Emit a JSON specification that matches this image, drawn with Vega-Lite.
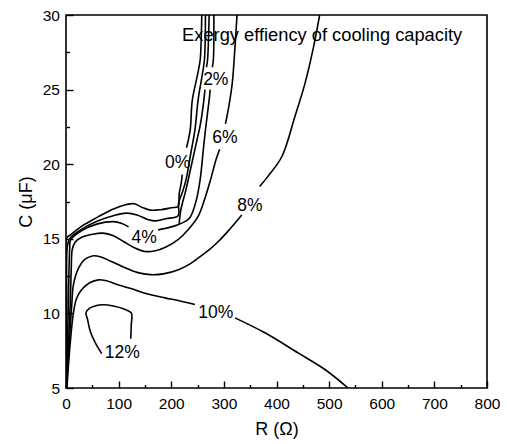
{
  "$schema": "https://vega.github.io/schema/vega-lite/v6.json",
  "width": 421,
  "height": 373,
  "padding": {"left": 17, "top": 8, "right": 5, "bottom": 5},
  "config": {
    "font": "Liberation Sans",
    "view": {"stroke": "#000", "strokeWidth": 1.6},
    "axis": {"grid": false, "domain": false, "labelColor": "#000", "titleColor": "#000", "labelFont": "Liberation Sans", "titleFont": "Liberation Sans", "titleFontWeight": "normal"}
  },
  "datasets": {
    "lines": [
      {"seg": "A1", "i": 1, "R": 0, "C": 5}, {"seg": "A1", "i": 2, "R": 0.3, "C": 10}, {"seg": "A1", "i": 3, "R": 1.5, "C": 15.05}, {"seg": "A1", "i": 4, "R": 10, "C": 15.3}, {"seg": "A1", "i": 5, "R": 30, "C": 15.85}, {"seg": "A1", "i": 6, "R": 60, "C": 16.45}, {"seg": "A1", "i": 7, "R": 90, "C": 17.0}, {"seg": "A1", "i": 8, "R": 115, "C": 17.3}, {"seg": "A1", "i": 9, "R": 130, "C": 17.35}, {"seg": "A1", "i": 10, "R": 145, "C": 17.1}, {"seg": "A1", "i": 11, "R": 160, "C": 16.92}, {"seg": "A1", "i": 12, "R": 180, "C": 16.95}, {"seg": "A1", "i": 13, "R": 200, "C": 17.08}, {"seg": "A1", "i": 14, "R": 213, "C": 17.17}, {"seg": "A1", "i": 15, "R": 215, "C": 18.0}, {"seg": "A1", "i": 16, "R": 219, "C": 18.75}, {"seg": "A1", "i": 17, "R": 221, "C": 19.3},
      {"seg": "A2", "i": 1, "R": 229, "C": 21.1}, {"seg": "A2", "i": 2, "R": 236, "C": 22.3}, {"seg": "A2", "i": 3, "R": 240, "C": 24.3}, {"seg": "A2", "i": 4, "R": 250, "C": 26.0}, {"seg": "A2", "i": 5, "R": 255, "C": 27.0}, {"seg": "A2", "i": 6, "R": 257, "C": 28.5}, {"seg": "A2", "i": 7, "R": 258, "C": 30},
      {"seg": "B1", "i": 1, "R": 0.3, "C": 5}, {"seg": "B1", "i": 2, "R": 1.5, "C": 10.6}, {"seg": "B1", "i": 3, "R": 3, "C": 14.6}, {"seg": "B1", "i": 4, "R": 8, "C": 15.05}, {"seg": "B1", "i": 5, "R": 30, "C": 15.65}, {"seg": "B1", "i": 6, "R": 60, "C": 16.2}, {"seg": "B1", "i": 7, "R": 90, "C": 16.55}, {"seg": "B1", "i": 8, "R": 115, "C": 16.72}, {"seg": "B1", "i": 9, "R": 135, "C": 16.6}, {"seg": "B1", "i": 10, "R": 155, "C": 16.3}, {"seg": "B1", "i": 11, "R": 170, "C": 16.2}, {"seg": "B1", "i": 12, "R": 190, "C": 16.35}, {"seg": "B1", "i": 13, "R": 213, "C": 16.55}, {"seg": "B1", "i": 14, "R": 214, "C": 17.4}, {"seg": "B1", "i": 15, "R": 222, "C": 18.2}, {"seg": "B1", "i": 16, "R": 229, "C": 19.1}, {"seg": "B1", "i": 17, "R": 237, "C": 20.7}, {"seg": "B1", "i": 18, "R": 245, "C": 22.3}, {"seg": "B1", "i": 19, "R": 251, "C": 24.3}, {"seg": "B1", "i": 20, "R": 258, "C": 25.8}, {"seg": "B1", "i": 21, "R": 263, "C": 27}, {"seg": "B1", "i": 22, "R": 265, "C": 30},
      {"seg": "X1", "i": 1, "R": 215, "C": 16.0}, {"seg": "X1", "i": 2, "R": 218, "C": 16.9}, {"seg": "X1", "i": 3, "R": 228, "C": 18.3}, {"seg": "X1", "i": 4, "R": 240, "C": 20.2}, {"seg": "X1", "i": 5, "R": 250, "C": 21.8}, {"seg": "X1", "i": 6, "R": 255, "C": 22.6}, {"seg": "X1", "i": 7, "R": 262, "C": 24.3}, {"seg": "X1", "i": 8, "R": 264, "C": 25.0},
      {"seg": "X2", "i": 1, "R": 267, "C": 26.5}, {"seg": "X2", "i": 2, "R": 269, "C": 27}, {"seg": "X2", "i": 3, "R": 272, "C": 30},
      {"seg": "C1", "i": 1, "R": 0.7, "C": 5}, {"seg": "C1", "i": 2, "R": 4.5, "C": 10.6}, {"seg": "C1", "i": 3, "R": 7, "C": 14.3}, {"seg": "C1", "i": 4, "R": 9, "C": 14.95}, {"seg": "C1", "i": 5, "R": 30, "C": 15.55}, {"seg": "C1", "i": 6, "R": 60, "C": 16.0}, {"seg": "C1", "i": 7, "R": 90, "C": 16.15}, {"seg": "C1", "i": 8, "R": 105, "C": 16.05}, {"seg": "C1", "i": 9, "R": 119, "C": 15.8},
      {"seg": "C2", "i": 1, "R": 175, "C": 15.6}, {"seg": "C2", "i": 2, "R": 195, "C": 15.75}, {"seg": "C2", "i": 3, "R": 213, "C": 15.94}, {"seg": "C2", "i": 4, "R": 220, "C": 16.05}, {"seg": "C2", "i": 5, "R": 235, "C": 16.4}, {"seg": "C2", "i": 6, "R": 247, "C": 17.5}, {"seg": "C2", "i": 7, "R": 255, "C": 19.0}, {"seg": "C2", "i": 8, "R": 261, "C": 21.0}, {"seg": "C2", "i": 9, "R": 265, "C": 22.3}, {"seg": "C2", "i": 10, "R": 272, "C": 24.3}, {"seg": "C2", "i": 11, "R": 274, "C": 25.0},
      {"seg": "C3", "i": 1, "R": 278, "C": 26.5}, {"seg": "C3", "i": 2, "R": 280, "C": 27}, {"seg": "C3", "i": 3, "R": 281, "C": 30},
      {"seg": "D1", "i": 1, "R": 1, "C": 5}, {"seg": "D1", "i": 2, "R": 8, "C": 10.6}, {"seg": "D1", "i": 3, "R": 10, "C": 13.0}, {"seg": "D1", "i": 4, "R": 12, "C": 14.3}, {"seg": "D1", "i": 5, "R": 18, "C": 14.8}, {"seg": "D1", "i": 6, "R": 30, "C": 15.1}, {"seg": "D1", "i": 7, "R": 50, "C": 15.3}, {"seg": "D1", "i": 8, "R": 70, "C": 15.38}, {"seg": "D1", "i": 9, "R": 90, "C": 15.2}, {"seg": "D1", "i": 10, "R": 110, "C": 14.8}, {"seg": "D1", "i": 11, "R": 130, "C": 14.4}, {"seg": "D1", "i": 12, "R": 150, "C": 14.15}, {"seg": "D1", "i": 13, "R": 170, "C": 14.2}, {"seg": "D1", "i": 14, "R": 190, "C": 14.45}, {"seg": "D1", "i": 15, "R": 213, "C": 14.94}, {"seg": "D1", "i": 16, "R": 232, "C": 15.6}, {"seg": "D1", "i": 17, "R": 251, "C": 16.5}, {"seg": "D1", "i": 18, "R": 262, "C": 17.5}, {"seg": "D1", "i": 19, "R": 275, "C": 19.0}, {"seg": "D1", "i": 20, "R": 285, "C": 20.3}, {"seg": "D1", "i": 21, "R": 292, "C": 21.0},
      {"seg": "D2", "i": 1, "R": 303, "C": 22.7}, {"seg": "D2", "i": 2, "R": 310, "C": 24.0}, {"seg": "D2", "i": 3, "R": 316, "C": 25.45}, {"seg": "D2", "i": 4, "R": 321, "C": 27.8}, {"seg": "D2", "i": 5, "R": 325, "C": 30},
      {"seg": "E1", "i": 1, "R": 1.3, "C": 5}, {"seg": "E1", "i": 2, "R": 6, "C": 8}, {"seg": "E1", "i": 3, "R": 11, "C": 10.6}, {"seg": "E1", "i": 4, "R": 14, "C": 11.9}, {"seg": "E1", "i": 5, "R": 24, "C": 13.05}, {"seg": "E1", "i": 6, "R": 35, "C": 13.6}, {"seg": "E1", "i": 7, "R": 50, "C": 13.85}, {"seg": "E1", "i": 8, "R": 65, "C": 13.8}, {"seg": "E1", "i": 9, "R": 85, "C": 13.5}, {"seg": "E1", "i": 10, "R": 110, "C": 13.1}, {"seg": "E1", "i": 11, "R": 135, "C": 12.75}, {"seg": "E1", "i": 12, "R": 160, "C": 12.6}, {"seg": "E1", "i": 13, "R": 185, "C": 12.65}, {"seg": "E1", "i": 14, "R": 215, "C": 12.95}, {"seg": "E1", "i": 15, "R": 235, "C": 13.3}, {"seg": "E1", "i": 16, "R": 251, "C": 13.7}, {"seg": "E1", "i": 17, "R": 270, "C": 14.2}, {"seg": "E1", "i": 18, "R": 289, "C": 14.8}, {"seg": "E1", "i": 19, "R": 310, "C": 15.6}, {"seg": "E1", "i": 20, "R": 334, "C": 16.6},
      {"seg": "E2", "i": 1, "R": 368, "C": 18.5}, {"seg": "E2", "i": 2, "R": 384, "C": 19.2}, {"seg": "E2", "i": 3, "R": 410, "C": 20.5}, {"seg": "E2", "i": 4, "R": 435, "C": 23.2}, {"seg": "E2", "i": 5, "R": 454, "C": 25.4}, {"seg": "E2", "i": 6, "R": 470, "C": 27.8}, {"seg": "E2", "i": 7, "R": 482, "C": 30},
      {"seg": "F1", "i": 1, "R": 1.7, "C": 5}, {"seg": "F1", "i": 2, "R": 8, "C": 8}, {"seg": "F1", "i": 3, "R": 14, "C": 10.0}, {"seg": "F1", "i": 4, "R": 20, "C": 11.0}, {"seg": "F1", "i": 5, "R": 30, "C": 11.6}, {"seg": "F1", "i": 6, "R": 45, "C": 12.05}, {"seg": "F1", "i": 7, "R": 62, "C": 12.25}, {"seg": "F1", "i": 8, "R": 75, "C": 12.2}, {"seg": "F1", "i": 9, "R": 100, "C": 11.9}, {"seg": "F1", "i": 10, "R": 125, "C": 11.65}, {"seg": "F1", "i": 11, "R": 150, "C": 11.35}, {"seg": "F1", "i": 12, "R": 188, "C": 11.04}, {"seg": "F1", "i": 13, "R": 215, "C": 10.85}, {"seg": "F1", "i": 14, "R": 245, "C": 10.6},
      {"seg": "F2", "i": 1, "R": 321, "C": 9.7}, {"seg": "F2", "i": 2, "R": 378, "C": 8.7}, {"seg": "F2", "i": 3, "R": 441, "C": 7.35}, {"seg": "F2", "i": 4, "R": 492, "C": 6.24}, {"seg": "F2", "i": 5, "R": 536, "C": 5},
      {"seg": "G1", "i": 1, "R": 68, "C": 7.3}, {"seg": "G1", "i": 2, "R": 56, "C": 8.0}, {"seg": "G1", "i": 3, "R": 46, "C": 8.8}, {"seg": "G1", "i": 4, "R": 41, "C": 9.6}, {"seg": "G1", "i": 5, "R": 38, "C": 10.05}, {"seg": "G1", "i": 6, "R": 45, "C": 10.35}, {"seg": "G1", "i": 7, "R": 55, "C": 10.5}, {"seg": "G1", "i": 8, "R": 70, "C": 10.58}, {"seg": "G1", "i": 9, "R": 90, "C": 10.5}, {"seg": "G1", "i": 10, "R": 110, "C": 10.3}, {"seg": "G1", "i": 11, "R": 124, "C": 10.03}, {"seg": "G1", "i": 12, "R": 124, "C": 9.2}, {"seg": "G1", "i": 13, "R": 123, "C": 8.3}
    ],
    "labels": [
      {"label": "0%", "R": 212, "C": 19.74},
      {"label": "2%", "R": 284.6, "C": 25.31},
      {"label": "4%", "R": 148.6, "C": 14.72},
      {"label": "6%", "R": 302, "C": 21.41},
      {"label": "8%", "R": 349.5, "C": 16.83},
      {"label": "10%", "R": 284.6, "C": 9.7},
      {"label": "12%", "R": 107, "C": 7.02}
    ],
    "note": [
      {"label": "Exergy effiency of cooling capacity", "R": 486.7, "C": 28.26}
    ]
  },
  "resolve": {"axis": {"x": "independent", "y": "independent"}},
  "layer": [
    {
      "data": {"name": "lines"},
      "mark": {"type": "line", "color": "#000", "strokeWidth": 1.6, "clip": true, "interpolate": "catmull-rom"},
      "encoding": {
        "x": {"field": "R", "type": "quantitative", "scale": {"domain": [0, 800], "nice": false, "zero": false},
              "axis": {"orient": "bottom", "values": [0, 100, 200, 300, 400, 500, 600, 700, 800], "title": "R (Ω)", "titleFontSize": 18, "titlePadding": 9, "labelFontSize": 15.5, "ticks": true, "tickSize": -7, "tickColor": "#000", "tickWidth": 1.4, "labelPadding": 15, "labelFlush": false, "zindex": 1}},
        "y": {"field": "C", "type": "quantitative", "scale": {"domain": [5, 30], "nice": false, "zero": false},
              "axis": {"orient": "left", "values": [5, 10, 15, 20, 25, 30], "title": "C (μF)", "titleFontSize": 18, "titlePadding": 7, "labelFontSize": 15.5, "ticks": true, "tickSize": -7, "tickColor": "#000", "tickWidth": 1.4, "labelPadding": 13.5, "labelFlush": false, "zindex": 1}},
        "detail": {"field": "seg"},
        "order": {"field": "i", "type": "quantitative"}
      }
    },
    {
      "data": {"name": "lines"},
      "mark": {"type": "point", "opacity": 0},
      "encoding": {
        "x": {"field": "R", "type": "quantitative", "axis": {"orient": "top", "offset": -373, "values": [50, 150, 250, 350, 450, 550, 650, 750], "labels": false, "title": null, "ticks": true, "tickSize": 3.5, "tickColor": "#000", "tickWidth": 1.4, "zindex": 1}},
        "y": {"field": "C", "type": "quantitative", "axis": {"orient": "right", "offset": -421, "values": [7.5, 12.5, 17.5, 22.5, 27.5], "labels": false, "title": null, "ticks": true, "tickSize": 3.5, "tickColor": "#000", "tickWidth": 1.4, "zindex": 1}}
      }
    },
    {
      "data": {"name": "labels"},
      "mark": {"type": "text", "fontSize": 17.5, "baseline": "alphabetic", "align": "center", "color": "#000", "font": "Liberation Sans"},
      "encoding": {
        "x": {"field": "R", "type": "quantitative", "axis": null},
        "y": {"field": "C", "type": "quantitative", "axis": null},
        "text": {"field": "label"}
      }
    },
    {
      "data": {"name": "note"},
      "mark": {"type": "text", "fontSize": 18.3, "baseline": "alphabetic", "align": "center", "color": "#000", "font": "Liberation Sans"},
      "encoding": {
        "x": {"field": "R", "type": "quantitative", "axis": null},
        "y": {"field": "C", "type": "quantitative", "axis": null},
        "text": {"field": "label"}
      }
    }
  ]
}
